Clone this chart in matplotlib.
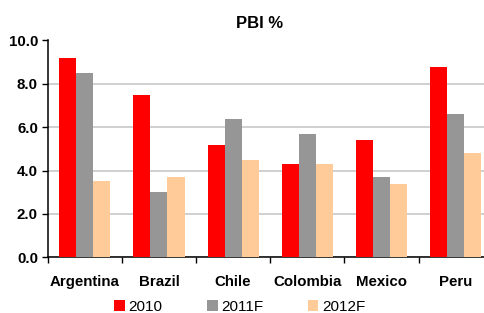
import numpy as np
import matplotlib
matplotlib.use('Agg')
import matplotlib.pyplot as plt
from matplotlib.ticker import FixedLocator, NullFormatter

plt.rcParams['font.family'] = ['Liberation Sans', 'DejaVu Sans']

countries = ['Argentina', 'Brazil', 'Chile', 'Colombia', 'Mexico', 'Peru']
series = ['2010', '2011F', '2012F']
v2010 = [9.2, 7.5, 5.2, 4.3, 5.4, 8.8]
v2011 = [8.5, 3.0, 6.4, 5.7, 3.7, 6.6]
v2012 = [3.5, 3.7, 4.5, 4.3, 3.4, 4.8]
colors = ['#FF0000', '#969696', '#FFCC99']

fig = plt.figure(figsize=(4.84, 3.13), dpi=100)
ax = fig.add_axes([47.7 / 484, 55.7 / 313, 445 / 484, 216.8 / 313])

x = np.arange(len(countries))
w = 0.23
bars = []
for k, (vals, c) in enumerate(zip([v2010, v2011, v2012], colors)):
  b = ax.bar(x + (k - 1) * w, vals, width=w, color=c, zorder=3, label=series[k])
  bars.append(b)

ax.set_ylim(0, 10)
ax.set_xlim(-0.5, len(countries) - 0.5)
ax.set_yticks(np.arange(0, 10.1, 2))
ax.set_yticklabels([f'{t:.1f}' for t in np.arange(0, 10.1, 2)])
ax.yaxis.grid(True, color='#C8C8C8', linewidth=1.2, zorder=0)

# category boundaries get tick marks, names sit between them
ax.xaxis.set_major_locator(FixedLocator(np.arange(-0.5, len(countries), 1)))
ax.xaxis.set_major_formatter(NullFormatter())
ax.xaxis.set_minor_locator(FixedLocator(x))
ax.set_xticklabels(countries, minor=True)
ax.tick_params(axis='x', which='minor', length=0, pad=13)
ax.tick_params(axis='x', which='major', length=4, width=1, direction='out')
ax.tick_params(axis='y', length=4, width=1, direction='out', pad=3)
for lbl in ax.get_yticklabels() + ax.get_xticklabels(minor=True):
  lbl.set_fontweight('bold')
  lbl.set_fontsize(10.8)

for s in ['top', 'right']:
  ax.spines[s].set_visible(False)
ax.spines['left'].set_linewidth(1.1)
ax.spines['bottom'].set_linewidth(1.1)

fig.text(260 / 484, 1 - 24 / 313, 'PBI %', ha='center', va='center',
         fontsize=12, fontweight='bold')

fig.legend(handles=bars, labels=series, loc='center left',
           bbox_to_anchor=(114 / 484, 1 - 307 / 313), ncol=3, frameon=False,
           fontsize=11, handlelength=0.7, handleheight=0.7, handletextpad=0.25,
           columnspacing=2.9, borderpad=0, borderaxespad=0)

fig.savefig('out.png', dpi=100)
